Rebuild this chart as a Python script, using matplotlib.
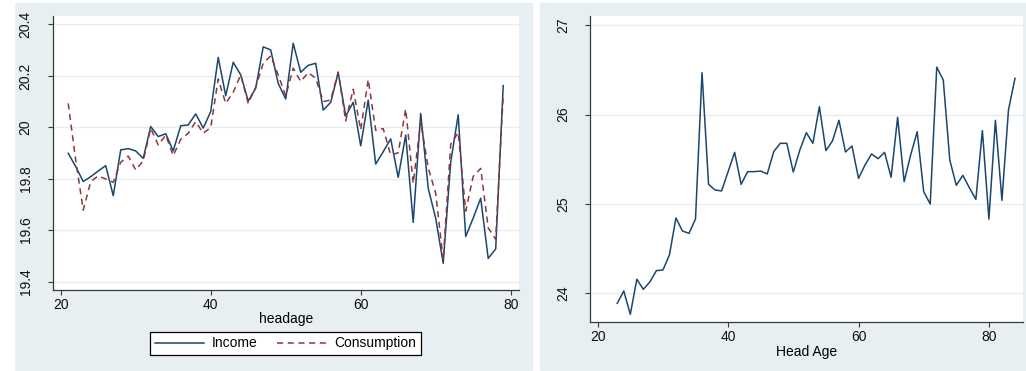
import numpy as np
import matplotlib.pyplot as plt
from matplotlib.patches import Rectangle

plt.rcParams['font.family'] = ['Liberation Sans', 'DejaVu Sans']

# Left panel: log income / consumption by head age
headage = np.arange(21, 80)
income = [19.899, 19.847, 19.789, 19.808, 19.830, 19.851, 19.734, 19.912, 19.917, 19.908,
          19.879, 20.003, 19.964, 19.975, 19.908, 20.006, 20.009, 20.052, 19.997, 20.061,
          20.272, 20.123, 20.253, 20.204, 20.102, 20.152, 20.313, 20.301, 20.171, 20.110,
          20.327, 20.214, 20.241, 20.249, 20.067, 20.097, 20.213, 20.044, 20.097, 19.928,
          20.106, 19.857, 19.905, 19.955, 19.805, 19.970, 19.630, 20.054, 19.763, 19.646,
          19.471, 19.864, 20.049, 19.575, 19.647, 19.724, 19.490, 19.527, 20.162]
consumption = [20.093, 19.872, 19.678, 19.789, 19.811, 19.799, 19.786, 19.864, 19.888, 19.834,
               19.870, 19.996, 19.931, 19.970, 19.890, 19.953, 19.977, 20.022, 19.977, 19.999,
               20.188, 20.093, 20.136, 20.204, 20.093, 20.156, 20.249, 20.278, 20.204, 20.122,
               20.230, 20.178, 20.213, 20.191, 20.100, 20.106, 20.215, 20.025, 20.148, 19.990,
               20.186, 19.988, 19.995, 19.892, 19.901, 20.071, 19.782, 20.022, 19.843, 19.743,
               19.484, 19.934, 19.980, 19.674, 19.809, 19.840, 19.609, 19.564, 20.125]

# Right panel
head_age = np.arange(23, 85)
series_r = [23.888, 24.026, 23.765, 24.157, 24.045, 24.127, 24.254, 24.261, 24.429, 24.843,
            24.697, 24.671, 24.831, 26.468, 25.219, 25.156, 25.145, 25.361, 25.577, 25.219,
            25.361, 25.361, 25.368, 25.335, 25.585, 25.678, 25.678, 25.357, 25.603, 25.797,
            25.678, 26.088, 25.596, 25.704, 25.935, 25.581, 25.648, 25.286, 25.435, 25.559,
            25.506, 25.577, 25.298, 25.969, 25.249, 25.547, 25.808, 25.137, 24.999, 26.530,
            26.386, 25.491, 25.208, 25.320, 25.182, 25.051, 25.820, 24.831, 25.935, 25.040,
            26.051, 26.405]

left_yticks = [19.4, 19.6, 19.8, 20.0, 20.2, 20.4]
left_ylabels = ['19.4', '19.6', '19.8', '20', '20.2', '20.4']
right_yticks = [24, 25, 26, 27]
xticks = [20, 40, 60, 80]

blue = '#1a476f'
red = '#90353b'
bg = '#e8eff2'
grid = '#e6eef0'
axc = '#3a3a3a'

W, H = 1026, 371
fig = plt.figure(figsize=(W / 100, H / 100), dpi=100)
fig.patch.set_facecolor('white')

# panel backgrounds
fig.add_artist(Rectangle((14 / W, 1 - 370 / H), (532 - 14) / W, 367 / H,
                         transform=fig.transFigure, color=bg, zorder=-5))
fig.add_artist(Rectangle((540 / W, 1 - 370 / H), (W - 540) / W, 367 / H,
                         transform=fig.transFigure, color=bg, zorder=-5))

ax1 = fig.add_axes([53 / W, (H - 290) / H, 465.5 / W, 274 / H])
ax2 = fig.add_axes([590.3 / W, (H - 322.3) / H, 433 / W, 306.3 / H])

for ax in (ax1, ax2):
    ax.set_facecolor('white')
    for s in ('top', 'right'):
        ax.spines[s].set_visible(False)
    for s in ('left', 'bottom'):
        ax.spines[s].set_color(axc)
        ax.spines[s].set_linewidth(0.9)
    ax.grid(axis='y', color=grid, lw=1.0)
    ax.set_axisbelow(True)
    ax.tick_params(axis='both', length=3.6, width=0.8, color=axc, labelsize=10,
                   labelcolor='#111111')
    ax.tick_params(axis='y', pad=11)
    ax.tick_params(axis='x', pad=2)
    ax.set_xticks(xticks)

ax1.plot(headage, income, color=blue, lw=1.1, label='Income')
ax1.plot(headage, consumption, color=red, lw=1.1, dashes=(4, 3), label='Consumption')
ax1.set_xlim(18.97, 81.04)
ax1.set_ylim(19.367, 20.433)
ax1.set_yticks(left_yticks)
ax1.set_yticklabels(left_ylabels, rotation=90, va='center')
ax1.set_xlabel('headage', fontsize=10, labelpad=0.5)
leg = ax1.legend(loc='center', bbox_to_anchor=(0.5, -0.195), ncol=2, fontsize=10,
                 handlelength=3.5, handletextpad=0.6, columnspacing=1.4,
                 borderpad=0.35, fancybox=False, framealpha=1, edgecolor='black')
leg.get_frame().set_linewidth(0.9)

ax2.plot(head_age, series_r, color=blue, lw=1.1)
ax2.set_xlim(18.865, 85.275)
ax2.set_ylim(23.676, 27.102)
ax2.set_yticks(right_yticks)
ax2.set_yticklabels([str(v) for v in right_yticks], rotation=90, va='center')
ax2.set_xlabel('Head Age', fontsize=10, labelpad=0.5)

# white margin on the far left, as in the cropped original
fig.add_artist(Rectangle((0, 0), 14 / W, 1, transform=fig.transFigure,
                         color='white', zorder=10))

fig.savefig('out.png', dpi=100)
